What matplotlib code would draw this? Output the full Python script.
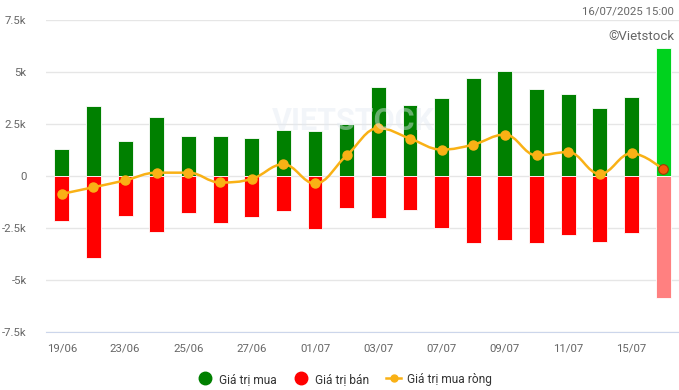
import matplotlib
matplotlib.use("Agg")
import matplotlib.pyplot as plt
from matplotlib.path import Path
from matplotlib.patches import PathPatch
from matplotlib.lines import Line2D
import numpy as np

dates = ["19/06", "20/06", "23/06", "24/06", "25/06", "26/06", "27/06", "30/06",
         "01/07", "02/07", "03/07", "04/07", "07/07", "08/07", "09/07", "10/07",
         "11/07", "14/07", "15/07", "16/07"]
buy = [1.30, 3.37, 1.68, 2.84, 1.92, 1.92, 1.83, 2.21, 2.16, 2.50,
       4.28, 3.41, 3.75, 4.71, 5.05, 4.18, 3.94, 3.27, 3.80, 6.15]
sell = [-2.15, -3.93, -1.91, -2.68, -1.76, -2.25, -1.96, -1.67, -2.53, -1.52,
        -2.00, -1.62, -2.49, -3.21, -3.06, -3.21, -2.82, -3.16, -2.73, -5.85]
net = [-0.86, -0.54, -0.21, 0.16, 0.16, -0.31, -0.14, 0.56, -0.36, 0.99,
       2.30, 1.80, 1.27, 1.51, 1.99, 0.99, 1.15, 0.10, 1.09, 0.32]

GREEN, RED = "#008000", "#ff0000"
GREEN_HL, RED_HL = "#00d21e", "#ff8080"
LINE = "#f9b115"
TXT = "#666666"
plt.rcParams["font.family"] = ["Roboto", "DejaVu Sans"]


def spline_path(xs, ys, smoothing=1.5):
    # Highcharts-style spline control points
    n = len(xs)
    ctrl = []
    for i in range(n):
        if i == 0 or i == n - 1:
            ctrl.append(((xs[i], ys[i]), (xs[i], ys[i])))
            continue
        d = smoothing + 1
        lx = (smoothing * xs[i] + xs[i - 1]) / d
        ly = (smoothing * ys[i] + ys[i - 1]) / d
        rx = (smoothing * xs[i] + xs[i + 1]) / d
        ry = (smoothing * ys[i] + ys[i + 1]) / d
        if rx != lx:
            corr = (ry - ly) * (rx - xs[i]) / (rx - lx) + ys[i] - ry
            ly += corr
            ry += corr
        if ly > ys[i - 1] and ly > ys[i]:
            ly = max(ys[i - 1], ys[i]); ry = 2 * ys[i] - ly
        elif ly < ys[i - 1] and ly < ys[i]:
            ly = min(ys[i - 1], ys[i]); ry = 2 * ys[i] - ly
        if ry > ys[i + 1] and ry > ys[i]:
            ry = max(ys[i + 1], ys[i]); ly = 2 * ys[i] - ry
        elif ry < ys[i + 1] and ry < ys[i]:
            ry = min(ys[i + 1], ys[i]); ly = 2 * ys[i] - ry
        ctrl.append(((lx, ly), (rx, ry)))
    verts = [(xs[0], ys[0])]
    codes = [Path.MOVETO]
    for i in range(1, n):
        verts += [ctrl[i - 1][1], ctrl[i][0], (xs[i], ys[i])]
        codes += [Path.CURVE4] * 3
    return Path(verts, codes)


fig = plt.figure(figsize=(6.79, 3.9), dpi=100)
ax = fig.add_axes([46 / 679, 58 / 390, 633 / 679, 312 / 390])

x = np.arange(len(dates))
gcol = [GREEN] * (len(x) - 1) + [GREEN_HL]
rcol = [RED] * (len(x) - 1) + [RED_HL]
ax.bar(x, buy, width=0.47, color=gcol, edgecolor="white", linewidth=0.6, zorder=2)
ax.bar(x, sell, width=0.47, color=rcol, edgecolor="white", linewidth=0.6, zorder=2)

ax.add_patch(PathPatch(spline_path(list(x), net), facecolor="none",
                       edgecolor=LINE, lw=1.8, zorder=3))
ax.plot(x[:-1], net[:-1], "o", color=LINE, ms=6.5, mec=LINE, zorder=4)
ax.plot(x[-1:], net[-1:], "o", color="#f45b0a", ms=7, mec="#9a3d00", mew=0.8, zorder=4)

ax.set_xlim(-0.5, len(x) - 0.5)
ax.set_ylim(-7.5, 7.5)
ax.set_yticks([-7.5, -5, -2.5, 0, 2.5, 5, 7.5])
ax.set_yticklabels(["-7.5k", "-5k", "-2.5k", "0", "2.5k", "5k", "7.5k"])
ax.set_xticks(x[::2])
ax.set_xticklabels(dates[::2])
ax.tick_params(axis="both", length=0, colors=TXT, labelsize=8.2)
ax.tick_params(axis="x", pad=8)
ax.tick_params(axis="y", pad=14)
for lab in ax.get_yticklabels():
    lab.set_horizontalalignment("right")
ax.grid(axis="y", color="#e6e6e6", lw=1, zorder=0)
ax.set_axisbelow(True)
for s in ["top", "right", "left"]:
    ax.spines[s].set_visible(False)
ax.spines["bottom"].set_color("#ccd6eb")
ax.spines["bottom"].set_position(("data", -7.5))

# faint watermark
fig.text(0.52, 0.69, "VIETSTOCK", color="#e3e9f2", fontsize=22, fontweight="bold",
         ha="center", va="center", alpha=0.45, zorder=0)

fig.text(0.993, 0.97, "16/07/2025 15:00", ha="right", va="center", color=TXT, fontsize=8.2)
fig.text(0.993, 0.906, "©Vietstock", ha="right", va="center", color=TXT, fontsize=9.5)

handles = [
    Line2D([], [], ls="none", marker="o", color=GREEN, ms=9),
    Line2D([], [], ls="none", marker="o", color=RED, ms=9),
    Line2D([], [], color=LINE, lw=1.8, marker="o", ms=5),
]
fig.legend(handles, ["Giá trị mua", "Giá trị bán", "Giá trị mua ròng"],
           loc="center", bbox_to_anchor=(0.508, 0.028), ncol=3, frameon=False,
           fontsize=8.6, handlelength=1.3, handletextpad=0.5, columnspacing=1.4,
           labelcolor="#333333")

fig.savefig("out.png", dpi=100)
